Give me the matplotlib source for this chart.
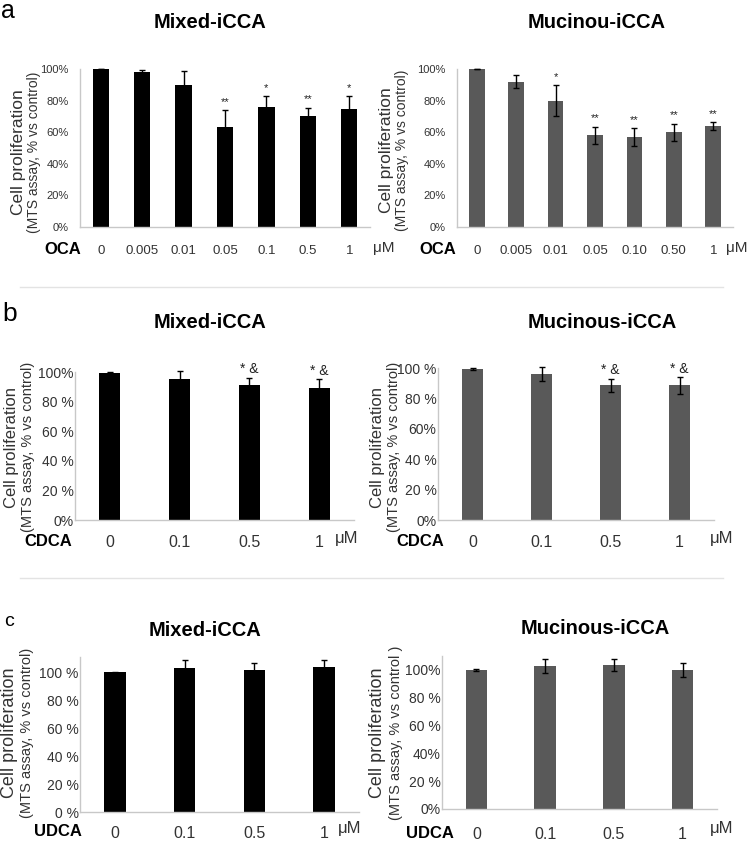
"""
    Cell proliferation (MTS assay) under bile acid treatment.
    Six bar panels: OCA / CDCA / UDCA for Mixed-iCCA and Mucinous-iCCA.
"""

import matplotlib.pyplot as plt
from matplotlib.lines import Line2D

plt.rcParams['font.family'] = ['Liberation Sans', 'DejaVu Sans']

W, H = 750, 841

# ============================================================
# Data
# ============================================================

oca_doses_mixed = ['0', '0.005', '0.01', '0.05', '0.1', '0.5', '1']
oca_doses_muc = ['0', '0.005', '0.01', '0.05', '0.10', '0.50', '1']
oca_mixed = [100, 98, 90, 63, 76, 70, 75]
oca_mixed_err = [0.3, 1.5, 9, 11, 7, 5.5, 8]
oca_mixed_sig = ['', '', '', '**', '*', '**', '*']
oca_muc = [100, 92, 80, 58, 57, 60, 64]
oca_muc_err = [0.2, 4, 10, 5.5, 5.5, 5.5, 2.5]
oca_muc_sig = ['', '', '*', '**', '**', '**', '**']

doses = ['0', '0.1', '0.5', '1']
cdca_mixed = [99.5, 95, 91, 89]
cdca_mixed_err = [0.5, 5.5, 5, 6]
cdca_muc = [99.5, 96, 88.5, 88.5]
cdca_muc_err = [0.5, 4.5, 4.5, 5.5]
cdca_sig = ['', '', '* &', '* &']

udca_mixed = [100, 103, 102, 103.5]
udca_mixed_err = [0.5, 6, 5, 5]
udca_muc = [100, 103, 103.5, 100]
udca_muc_err = [0.8, 5, 4.5, 5]
no_sig = ['', '', '', '']

pct_ticks_a = ['0%', '20%', '40%', '60%', '80%', '100%']
pct_ticks_b_mixed = ['0%', '20 %', '40 %', '60 %', '80 %', '100%']
pct_ticks_b_muc = ['0%', '20 %', '40 %', '60%', '80 %', '100 %']
pct_ticks_c_mixed = ['0 %', '20 %', '40 %', '60 %', '80 %', '100 %']
pct_ticks_c_muc = ['0%', '20 %', '40%', '60 %', '80 %', '100%']


def px_axes(fig, x0, x1, y_top, y_bot):
    """Add axes from pixel box (y measured from top)."""
    return fig.add_axes([x0 / W, 1 - y_bot / H, (x1 - x0) / W, (y_bot - y_top) / H])


def bar_panel(fig, box, labels, vals, errs, sig, color, ylim, ticklabels,
              width, tick_fs, lab_fs, sig_fs, sig_off, ypad, xpad):
    ax = px_axes(fig, *box)
    x = list(range(len(vals)))
    ax.bar(x, vals, width=width, color=color, zorder=2)
    ax.errorbar(x, vals, yerr=errs, fmt='none', ecolor='black', elinewidth=1,
                capsize=2.5, capthick=1, zorder=3, clip_on=False)
    for xi, v, e, s in zip(x, vals, errs, sig):
        if s:
            ax.text(xi, v + e + sig_off, s, ha='center', va='bottom',
                    fontsize=sig_fs, color='#222222')
    ax.set_xlim(-0.5, len(vals) - 0.5)
    ax.set_ylim(*ylim)
    ax.set_yticks([0, 20, 40, 60, 80, 100])
    ax.set_yticklabels(ticklabels, fontsize=tick_fs, color='#333333')
    ax.set_xticks(x)
    ax.set_xticklabels(labels, fontsize=lab_fs, color='#333333')
    ax.tick_params(axis='y', length=0, pad=ypad)
    ax.tick_params(axis='x', length=0, pad=xpad)
    for side in ('top', 'right'):
        ax.spines[side].set_visible(False)
    for side in ('left', 'bottom'):
        ax.spines[side].set_color('#c8c8c8')
        ax.spines[side].set_linewidth(1)
    ax.patch.set_alpha(0)
    return ax


def ylabel(fig, x1, x2, y, size1, size2, line2='(MTS assay, % vs control)'):
    fig.text(x1 / W, 1 - y / H, 'Cell proliferation', rotation=90, ha='center',
             va='center', fontsize=size1, color='#333333')
    fig.text(x2 / W, 1 - y / H, line2, rotation=90,
             ha='center', va='center', fontsize=size2, color='#333333')


def ftext(fig, x, y, s, **kw):
    fig.text(x / W, 1 - y / H, s, ha='center', va='center', **kw)


fig = plt.figure(figsize=(W / 100, H / 100), dpi=100)

BLACK = '#000000'
GREY = '#595959'
TXT = '#333333'

# ---- row a: OCA ----
bar_panel(fig, (80, 370, 69, 227), oca_doses_mixed, oca_mixed, oca_mixed_err,
          oca_mixed_sig, BLACK, (0, 100), pct_ticks_a, 0.39, 8, 9.5, 8, 2, 8, 13)
bar_panel(fig, (457, 733, 69, 227), oca_doses_muc, oca_muc, oca_muc_err,
          oca_muc_sig, GREY, (0, 100), pct_ticks_a, 0.4, 8, 9.5, 8, 2, 8, 13)
ylabel(fig, 19, 34, 152, 12.5, 10)
ylabel(fig, 387, 402, 150, 12.5, 10)
ftext(fig, 210, 23, 'Mixed-iCCA', fontsize=14.5, fontweight='bold')
ftext(fig, 597, 23, 'Mucinou-iCCA', fontsize=14.5, fontweight='bold')
ftext(fig, 63, 249, 'OCA', fontsize=12, fontweight='bold')
ftext(fig, 438, 249, 'OCA', fontsize=12, fontweight='bold')
ftext(fig, 384, 248, 'μM', fontsize=11, color=TXT)
ftext(fig, 737, 248, 'μM', fontsize=11, color=TXT)
ftext(fig, 8, 11, 'a', fontsize=18)

# ---- row b: CDCA ----
bar_panel(fig, (75, 354, 372, 520), doses, cdca_mixed, cdca_mixed_err,
          cdca_sig, BLACK, (0, 100), pct_ticks_b_mixed, 0.3, 10, 11.5, 10, 1, 1, 11)
bar_panel(fig, (438, 714, 368, 520), doses, cdca_muc, cdca_muc_err,
          cdca_sig, GREY, (0, 100), pct_ticks_b_muc, 0.31, 10, 11.5, 10, 1, 1, 11)
ylabel(fig, 12, 28, 447, 12, 10.5)
ylabel(fig, 377, 394, 447, 12, 10.5)
ftext(fig, 210, 322, 'Mixed-iCCA', fontsize=14.5, fontweight='bold')
ftext(fig, 602, 322, 'Mucinous-iCCA', fontsize=14.5, fontweight='bold')
ftext(fig, 48, 541, 'CDCA', fontsize=12, fontweight='bold')
ftext(fig, 420, 542, 'CDCA', fontsize=12, fontweight='bold')
ftext(fig, 347, 539, 'μM', fontsize=12, color=TXT)
ftext(fig, 722, 539, 'μM', fontsize=12, color=TXT)
ftext(fig, 10, 314, 'b', fontsize=19)

# ---- row c: UDCA ----
bar_panel(fig, (80, 359, 657, 812), doses, udca_mixed, udca_mixed_err,
          no_sig, BLACK, (0, 111), pct_ticks_c_mixed, 0.31, 10, 11.5, 10, 1, 1, 10)
bar_panel(fig, (442, 717, 656, 809), doses, udca_muc, udca_muc_err,
          no_sig, GREY, (0, 110), pct_ticks_c_muc, 0.31, 10, 11.5, 10, 1, 1, 13)
ylabel(fig, 10, 27, 733, 13, 10.5)
ylabel(fig, 378, 396, 733, 13, 10.5, '(MTS assay, % vs control )')
ftext(fig, 205, 630, 'Mixed-iCCA', fontsize=14.5, fontweight='bold')
ftext(fig, 595, 628, 'Mucinous-iCCA', fontsize=14.5, fontweight='bold')
ftext(fig, 58, 831, 'UDCA', fontsize=12, fontweight='bold')
ftext(fig, 430, 833, 'UDCA', fontsize=12, fontweight='bold')
ftext(fig, 350, 829, 'μM', fontsize=12, color=TXT)
ftext(fig, 722, 829, 'μM', fontsize=12, color=TXT)
ftext(fig, 9, 622, 'c', fontsize=14)

# separators between rows
for y in (287, 578):
    fig.add_artist(Line2D([20 / W, 723 / W], [1 - y / H, 1 - y / H],
                          color='#e3e3e3', linewidth=1))

fig.savefig('out.png', dpi=100)
